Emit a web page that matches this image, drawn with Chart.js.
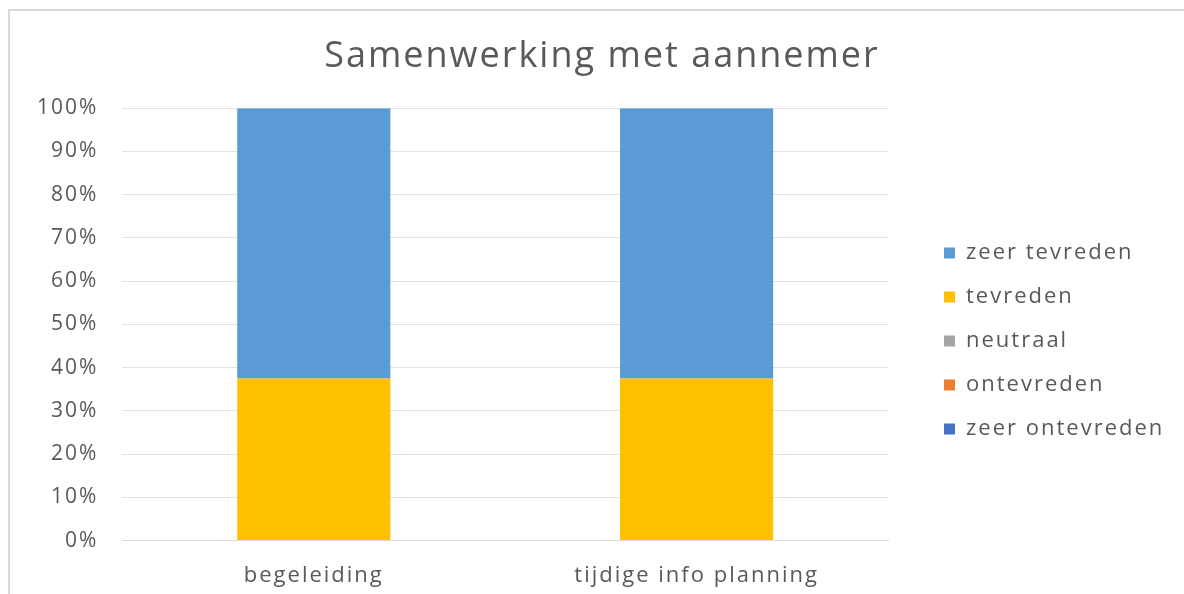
<!DOCTYPE html>
<html>
<head>
<meta charset="utf-8">
<script src="https://cdn.jsdelivr.net/npm/chart.js@4/dist/chart.umd.min.js"></script>
<style>
  html, body { margin: 0; padding: 0; background: #fff; overflow: hidden; }
  #frame { position: absolute; left: 8px; top: 9px; width: 1200px; height: 620px; border: 2px solid #d9d9d9; box-sizing: border-box; }
  #wrap { position: absolute; left: 10px; top: 11px; width: 1174px; height: 583px; }
</style>
</head>
<body>
<div id="frame"></div>
<div id="wrap"><canvas id="c"></canvas></div>
<script>
const categories = ["begeleiding", "tijdige info planning"];
const seriesNames = ["zeer ontevreden", "ontevreden", "neutraal", "tevreden", "zeer tevreden"];
const zeerOntevreden = [0, 0];
const ontevreden = [0, 0];
const neutraal = [0, 0];
const tevreden = [37.5, 37.5];
const zeerTevreden = [62.5, 62.5];
const colors = ["#4472C4", "#ED7D31", "#A5A5A5", "#FFC000", "#5B9BD5"];
const seriesValues = [zeerOntevreden, ontevreden, neutraal, tevreden, zeerTevreden];

const FONT = "'Open Sans', 'Noto Sans', sans-serif";
const GRAY = "#595959";
const LETTER_SPACING = "2px";
const LEGEND_WIDTH = 303;
const LEGEND_DX = 34;
const LEGEND_DY = 30;

const spacingPlugin = {
  id: "spacing",
  beforeUpdate(chart) {
    chart.ctx.letterSpacing = LETTER_SPACING;
    if (chart.legend && !chart.legend._patched) {
      const fit = chart.legend.fit;
      chart.legend.fit = function () { fit.call(this); this.width = Math.max(this.width, LEGEND_WIDTH); };
      chart.legend._patched = true;
    }
  },
  beforeLayout(chart) { chart.ctx.letterSpacing = LETTER_SPACING; },
  afterLayout(chart) {
    const lg = chart.legend;
    if (lg) { lg.left += LEGEND_DX; lg.right += LEGEND_DX; lg.top += LEGEND_DY; lg.bottom += LEGEND_DY; }
  },
  beforeDraw(chart) { chart.ctx.letterSpacing = LETTER_SPACING; }
};

new Chart(document.getElementById("c"), {
  type: "bar",
  data: {
    labels: categories,
    datasets: seriesNames.map((n, i) => ({
      label: n,
      data: seriesValues[i],
      backgroundColor: colors[i],
      borderWidth: 0,
      categoryPercentage: 0.8,
      barPercentage: 0.5
    }))
  },
  plugins: [spacingPlugin],
  options: {
    responsive: true,
    maintainAspectRatio: false,
    animation: false,
    layout: { padding: { left: 3, right: -7, top: 0, bottom: -17 } },
    plugins: {
      title: {
        display: true,
        text: "Samenwerking met aannemer",
        color: GRAY,
        font: { family: FONT, size: 36, weight: "normal", lineHeight: 1.2 },
        padding: { top: 24, bottom: 30 }
      },
      legend: {
        position: "right",
        reverse: true,
        labels: {
          boxWidth: 11,
          boxHeight: 11,
          padding: 22,
          color: GRAY,
          font: { family: FONT, size: 22 }
        }
      },
      tooltip: { enabled: false }
    },
    scales: {
      x: {
        stacked: true,
        grid: { display: false, drawTicks: false },
        border: { display: true, color: "#d9d9d9" },
        ticks: { color: GRAY, font: { family: FONT, size: 22 }, padding: 22 }
      },
      y: {
        stacked: true,
        min: 0,
        max: 100,
        grid: { color: "#e3e3e3", drawTicks: false },
        border: { display: false },
        ticks: {
          stepSize: 10,
          color: GRAY,
          padding: 24,
          font: { family: FONT, size: 21 },
          callback: v => v + "%"
        }
      }
    }
  }
});
</script>
</body>
</html>
